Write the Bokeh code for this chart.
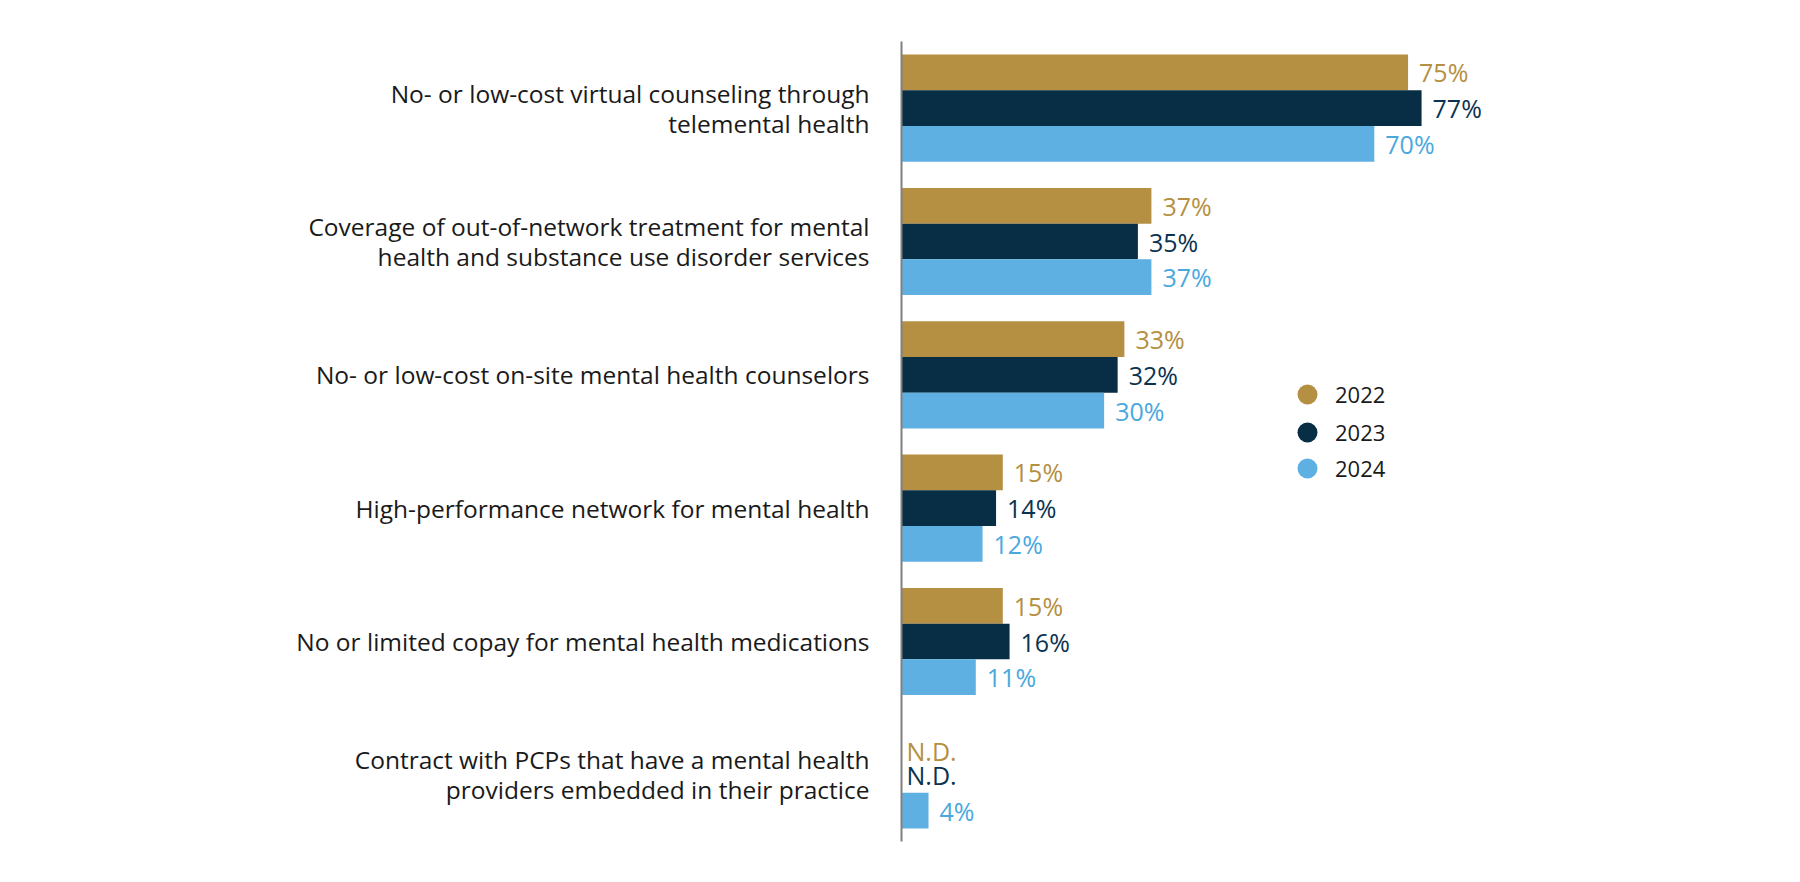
from bokeh.plotting import figure
from bokeh.models import ColumnDataSource, FactorRange, Range1d, Legend, LegendItem
from bokeh.transform import dodge
from bokeh.core.properties import value
from bokeh.embed import file_html
from bokeh.resources import INLINE

categories = [
    "No- or low-cost virtual counseling through\ntelemental health",
    "Coverage of out-of-network treatment for mental\nhealth and substance use disorder services",
    "No- or low-cost on-site mental health counselors",
    "High-performance network for mental health",
    "No or limited copay for mental health medications",
    "Contract with PCPs that have a mental health\nproviders embedded in their practice",
]
years = ["2022", "2023", "2024"]
values_2022 = [75, 37, 33, 15, 15, None]
values_2023 = [77, 35, 32, 14, 16, None]
values_2024 = [70, 37, 30, 12, 11, 4]

bar_colors = ["#B58F42", "#072E44", "#5EB0E2"]
text_colors = ["#B58F42", "#0B3350", "#4AA8DD"]
FONT = "Open Sans"

p = figure(
    width=1780, height=860,
    y_range=FactorRange(factors=list(reversed(categories)), range_padding=0),
    x_range=Range1d(0, 118),
    output_backend="svg", toolbar_location=None,
    min_border_left=901, min_border_right=82, min_border_top=41, min_border_bottom=19,
)
p.outline_line_color = None
p.grid.visible = False
p.xaxis.visible = False
p.yaxis.axis_line_color = "#808080"
p.yaxis.axis_line_width = 2
p.yaxis.major_tick_line_color = None
p.yaxis.minor_tick_line_color = None
p.yaxis.major_tick_in = 0
p.yaxis.major_tick_out = 0
p.yaxis.major_label_standoff = 32
p.yaxis.major_label_text_font = FONT
p.yaxis.major_label_text_font_size = "24.5px"
p.yaxis.major_label_text_line_height = 0.9
p.yaxis.major_label_text_color = "#1a1a1a"

bar_h = 0.268
offsets = [bar_h, 0.0, -bar_h]
series = [values_2022, values_2023, values_2024]
legend_centers = [394, 432, 468]  # screen y of legend entries
frame_bottom = 841
for yr, vals, bc, tc, off, ly in zip(years, series, bar_colors, text_colors, offsets, legend_centers):
    right = [v if v is not None else float("nan") for v in vals]
    lx = [v if v is not None else 0 for v in vals]
    labels = [f"{v}%" if v is not None else "N.D." for v in vals]
    xo = [11 if v is not None else 5 for v in vals]
    yo = [0 if v is not None else (12 if yr == "2022" else 0) for v in vals]
    src = ColumnDataSource(dict(cat=categories, right=right, lx=lx, lab=labels, xo=xo, yo=yo))
    p.hbar(y=dodge("cat", off, range=p.y_range), left=0, right="right", height=bar_h,
           fill_color=bc, line_color=None, source=src)
    p.text(x="lx", y=dodge("cat", off, range=p.y_range), text="lab", source=src,
           x_offset="xo", y_offset="yo",
           text_font=value(FONT), text_font_size="25px", text_color=tc,
           text_baseline="middle", text_align="left")
    r = p.scatter(x=[-1000], y=[categories[0]], marker="circle", size=20,
                  fill_color=bc, line_color=None)
    legend = Legend(
        items=[LegendItem(label=yr, renderers=[r])],
        location=(381, frame_bottom - (ly + 25)),
        glyph_width=50, glyph_height=50, padding=0, margin=0, spacing=0,
        label_standoff=3, label_text_font=FONT, label_text_font_size="22px",
        label_text_color="#1a1a1a", border_line_alpha=0, background_fill_alpha=0,
    )
    p.add_layout(legend)

open("out.html", "w").write(file_html(p, INLINE))
